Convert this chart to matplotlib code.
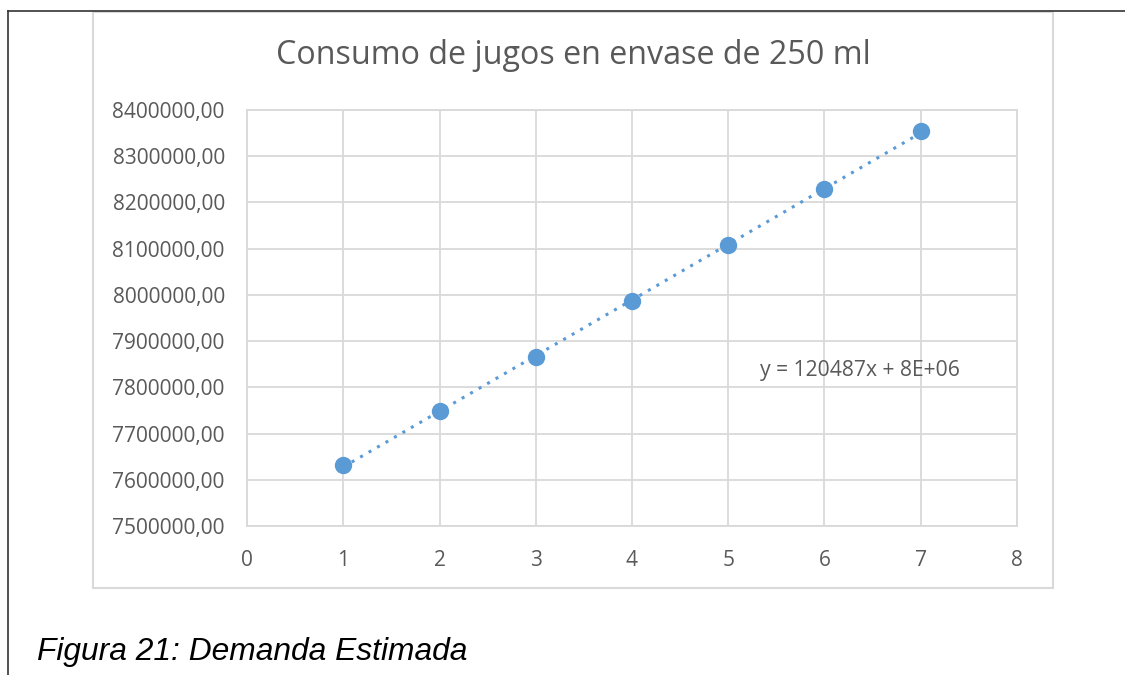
import numpy as np
import matplotlib.pyplot as plt
from matplotlib.lines import Line2D
from matplotlib.patches import Rectangle
from matplotlib.ticker import FuncFormatter, MultipleLocator

# datos
periodos = [1, 2, 3, 4, 5, 6, 7]
consumo = [7632000, 7748000, 7866000, 7986000, 8107000, 8229000, 8355000]
titulo = "Consumo de jugos en envase de 250 ml"
ecuacion = "y = 120487x + 8E+06"
pie = "Figura 21: Demanda Estimada"

azul = '#5b9bd5'
gris = '#d9d9d9'
texto = '#595959'
W, H = 1125, 675

fig = plt.figure(figsize=(W / 100, H / 100), dpi=100)
plt.rcParams['font.family'] = ['Open Sans', 'DejaVu Sans']

# marco de la pagina y del grafico
fig.add_artist(Line2D([8 / W, 1], [1 - 11 / H, 1 - 11 / H], color='#333333', lw=1.2))
fig.add_artist(Line2D([8 / W, 8 / W], [0, 1 - 11 / H], color='#333333', lw=1.2))
fig.add_artist(Rectangle((93 / W, 1 - 588 / H), 960 / W, 576 / H, fill=False,
                         edgecolor=gris, lw=1.5, transform=fig.transFigure))

ax = fig.add_axes([247 / W, 1 - 526 / H, 770 / W, 416 / H])

coef = np.polyfit(periodos, consumo, 1)
xs = np.array([periodos[0], periodos[-1]])
ax.plot(xs, np.polyval(coef, xs), linestyle=(0, (1, 2.2)), color=azul, lw=2.2, zorder=3)
ax.plot(periodos, consumo, 'o', color=azul, markersize=11.5, zorder=4)

ax.set_xlim(0, 8)
ax.set_ylim(7500000, 8400000)
ax.xaxis.set_major_locator(MultipleLocator(1))
ax.yaxis.set_major_locator(MultipleLocator(100000))
ax.yaxis.set_major_formatter(FuncFormatter(lambda v, p: f"{v:.2f}".replace('.', ',')))
ax.grid(True, color=gris, lw=1.3)
ax.set_axisbelow(True)
for s in ax.spines.values():
    s.set_color(gris)
    s.set_linewidth(1.3)
ax.tick_params(length=0, labelsize=15, labelcolor=texto)
ax.tick_params(axis='y', pad=16)
ax.tick_params(axis='x', pad=17)

fig.text(573 / W, 1 - 55 / H, titulo, ha='center', va='center', fontsize=23.2, color=texto)
ax.text(5.33, 7837000, ecuacion, ha='left', va='center', fontsize=15.2, color=texto)
fig.text(37 / W, 1 - 652 / H, pie, ha='left', va='center', fontsize=22.9,
         family='Liberation Sans', style='italic', color='black')

fig.savefig('out.png', dpi=100)
